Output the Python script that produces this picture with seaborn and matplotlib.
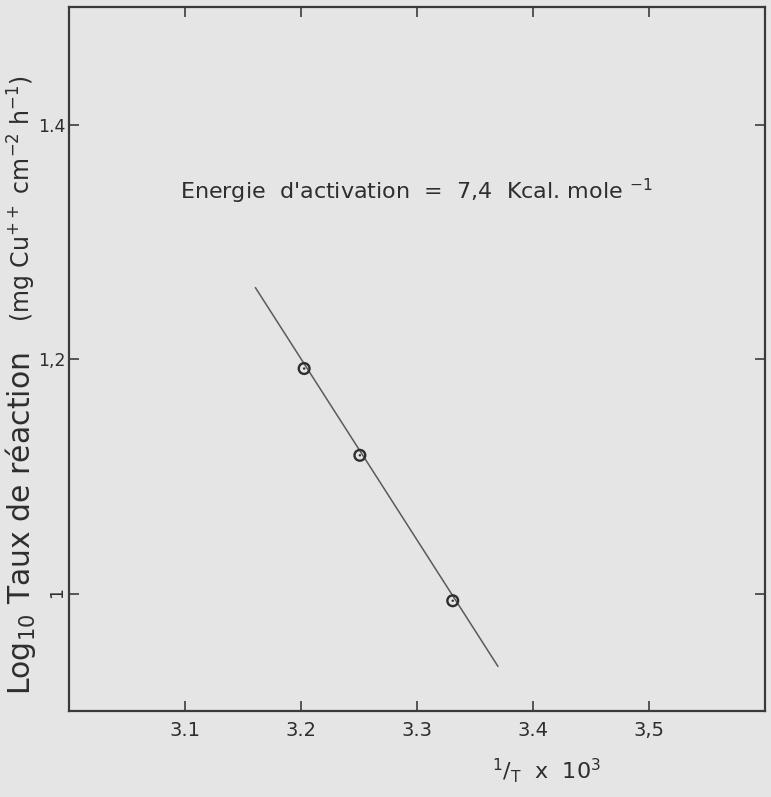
import numpy as np
import pandas as pd
import seaborn as sns
import matplotlib.pyplot as plt

# measured points (1/T x 10^3, log10 of reaction rate)
inv_t = [3.203, 3.251, 3.331]
log_rate = [1.192, 1.118, 0.994]

# ends of the straight line drawn through the points
fit_inv_t = [3.161, 3.370]
fit_log_rate = [1.261, 0.938]

x_ticks = [3.1, 3.2, 3.3, 3.4, 3.5]
x_tick_labels = ['3.1', '3.2', '3.3', '3.4', '3,5']
y_ticks = [1.0, 1.2, 1.4]
y_tick_labels = ['1', '1,2', '1.4']

bg = '#e5e5e5'
ink = '#2e2e2e'

sns.set_style('ticks')
plt.rcParams['font.family'] = ['DejaVu Sans']
plt.rcParams['mathtext.default'] = 'regular'
plt.rcParams['text.color'] = ink

fig = plt.figure(figsize=(7.71, 7.97), dpi=100, facecolor=bg)
ax = fig.add_axes([68.5 / 771, 1 - 711 / 797, 696.5 / 771, 703.7 / 797])
ax.set_facecolor(bg)

pts = pd.DataFrame({'inv_t': inv_t, 'log_rate': log_rate})
fit = pd.DataFrame({'inv_t': fit_inv_t, 'log_rate': fit_log_rate})

# the fitted line, then open circles with a small dot inside
sns.lineplot(data=fit, x='inv_t', y='log_rate', ax=ax, color='#5a5a5a', linewidth=1.1)
sns.scatterplot(data=pts, x='inv_t', y='log_rate', ax=ax, marker='o', s=60,
                edgecolor=ink, linewidth=1.7, zorder=3)
ax.collections[-1].set_facecolor('none')
sns.scatterplot(data=pts, x='inv_t', y='log_rate', ax=ax, marker='o', s=3,
                color=ink, edgecolor='none', zorder=4)

ax.set_xlim(3.0, 3.6)
ax.set_ylim(0.9, 1.5)
ax.set_xticks(x_ticks)
ax.set_xticklabels(x_tick_labels)
ax.set_yticks(y_ticks)
ax.set_yticklabels(y_tick_labels)
ax.get_yticklabels()[0].set_rotation(90)
ax.tick_params(direction='in', top=True, right=True, length=7, width=1.1,
               color=ink, labelcolor=ink)
ax.tick_params(axis='x', pad=7, labelsize=14)
ax.tick_params(axis='y', pad=2, labelsize=12.5)
for s in ax.spines.values():
    s.set_color('#3a3a3a')
    s.set_linewidth(1.6)
ax.set_xlabel('')
ax.set_ylabel('')

# axis titles
ax.text(0.686, -0.084, r'$^{1}/_{T}$  x  10$^{3}$', transform=ax.transAxes,
        fontsize=16, ha='center', va='center')
fig.text(30 / 771, 1 - 695 / 797, r'Log$_{10}$ Taux de réaction', fontsize=21.5,
         rotation=90, rotation_mode='anchor', ha='left', va='baseline')
fig.text(31 / 771, 1 - 322 / 797, r'(mg Cu$^{++}$ cm$^{-2}$ h$^{-1}$)', fontsize=17,
         rotation=90, rotation_mode='anchor', ha='left', va='baseline')

ax.text(0.16, 0.739, r"Energie  d'activation  =  7,4  Kcal. mole $^{-1}$",
        transform=ax.transAxes, fontsize=16, ha='left', va='center')

fig.savefig('out.png', dpi=100, facecolor=bg)
